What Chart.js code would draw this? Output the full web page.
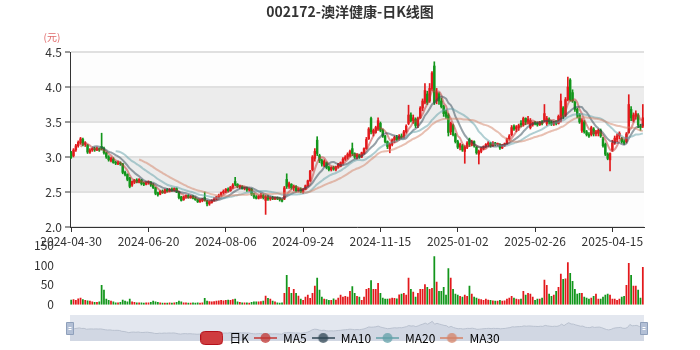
<!DOCTYPE html>
<html>
<head>
<meta charset="utf-8">
<script src="https://cdn.jsdelivr.net/npm/chart.js@4.4.1/dist/chart.umd.min.js"></script>
<style>
  html, body { margin: 0; padding: 0; background: #fff; }
  #wrap { position: relative; width: 700px; height: 350px; overflow: hidden; }
  #wrap canvas { position: absolute; left: 0; }
  #sliderChart { top: 315px; }
  #volChart { top: 230px; }
  #kChart { top: 0; }
</style>
</head>
<body>
<div id="wrap">
  <canvas id="sliderChart" width="700" height="26"></canvas>
  <canvas id="volChart" width="700" height="90"></canvas>
  <canvas id="kChart" width="700" height="354"></canvas>
</div>
<script>
// daily prices (yuan)
const opens = [
  3.06,3.02,3.10,3.16,3.20,3.25,3.18,3.17,3.07,3.10, 3.12,3.10,3.12,3.15,3.12,3.06,3.00,2.95,2.97,2.92,
  2.90,2.91,2.90,2.78,2.75,2.70,2.60,2.64,2.67,2.64, 2.67,2.62,2.61,2.63,2.64,2.60,2.56,2.49,2.47,2.51,
  2.49,2.53,2.51,2.54,2.52,2.55,2.50,2.43,2.39,2.43, 2.45,2.42,2.44,2.41,2.39,2.36,2.38,2.42,2.37,2.33,
  2.35,2.38,2.40,2.43,2.45,2.49,2.51,2.54,2.52,2.57, 2.65,2.61,2.57,2.58,2.55,2.56,2.53,2.54,2.47,2.43,
  2.41,2.43,2.45,2.38,2.43,2.40,2.42,2.40,2.42,2.41, 2.39,2.40,2.68,2.58,2.61,2.56,2.58,2.52,2.54,2.50,
  2.54,2.59,2.66,2.82,2.98,3.24,3.02,2.95,2.88,2.92, 2.85,2.82,2.85,2.82,2.86,2.87,2.92,2.97,3.00,3.02,
  3.12,3.05,3.00,3.03,3.00,3.05,3.12,3.26,3.55,3.34, 3.35,3.40,3.48,3.38,3.30,3.22,3.12,3.18,3.24,3.28,
  3.25,3.30,3.28,3.36,3.48,3.60,3.52,3.54,3.45,3.56, 3.70,3.78,3.90,3.80,3.98,4.30,3.80,3.90,3.80,3.72,
  3.64,3.60,3.36,3.45,3.32,3.22,3.14,3.16,3.08,3.14, 3.25,3.18,3.22,3.14,3.04,3.08,3.12,3.15,3.18,3.20,
  3.16,3.20,3.18,3.18,3.13,3.17,3.19,3.26,3.32,3.44, 3.40,3.42,3.48,3.46,3.55,3.50,3.42,3.46,3.49,3.48,
  3.46,3.50,3.52,3.48,3.54,3.50,3.47,3.50,3.48,3.52, 3.70,3.60,3.82,4.10,3.92,3.78,3.68,3.60,3.38,3.50,
  3.36,3.32,3.32,3.40,3.33,3.34,3.38,3.26,3.18,3.04, 2.96,3.10,3.20,3.25,3.30,3.26,3.22,3.22,3.35,3.68,
  3.52,3.58,3.60,3.44,3.44
];
const closes = [
  3.00,3.10,3.16,3.21,3.26,3.18,3.20,3.07,3.10,3.12, 3.10,3.12,3.10,3.12,3.06,3.00,2.96,2.98,2.92,2.91,
  2.92,2.90,2.78,2.75,2.68,2.58,2.65,2.67,2.64,2.68, 2.62,2.61,2.64,2.65,2.60,2.56,2.48,2.46,2.51,2.49,
  2.53,2.51,2.54,2.52,2.55,2.50,2.42,2.38,2.43,2.45, 2.42,2.44,2.41,2.39,2.36,2.38,2.40,2.38,2.33,2.36,
  2.38,2.40,2.43,2.45,2.49,2.51,2.54,2.52,2.57,2.60, 2.61,2.58,2.59,2.55,2.56,2.53,2.54,2.47,2.43,2.41,
  2.44,2.46,2.42,2.43,2.40,2.42,2.40,2.42,2.41,2.39, 2.37,2.56,2.58,2.62,2.56,2.58,2.52,2.55,2.50,2.54,
  2.59,2.66,2.80,3.00,3.08,3.05,2.95,2.90,2.94,2.85, 2.82,2.85,2.83,2.86,2.90,2.92,2.97,3.00,3.04,3.08,
  3.05,3.00,3.03,3.00,3.06,3.12,3.25,3.40,3.36,3.38, 3.42,3.52,3.38,3.30,3.22,3.15,3.18,3.24,3.28,3.25,
  3.30,3.28,3.36,3.44,3.60,3.52,3.56,3.45,3.55,3.70, 3.80,3.95,3.78,3.98,4.20,3.78,3.92,3.80,3.72,3.62,
  3.58,3.35,3.48,3.32,3.22,3.14,3.18,3.10,3.14,3.20, 3.18,3.22,3.16,3.06,3.08,3.12,3.15,3.18,3.20,3.16,
  3.20,3.18,3.19,3.13,3.17,3.19,3.26,3.30,3.42,3.40, 3.43,3.45,3.46,3.55,3.50,3.54,3.52,3.49,3.48,3.46,
  3.50,3.48,3.62,3.55,3.50,3.47,3.50,3.48,3.58,3.80, 3.58,3.82,4.00,3.82,3.80,3.68,3.60,3.50,3.52,3.36,
  3.32,3.30,3.42,3.33,3.36,3.38,3.30,3.16,3.04,2.98, 3.05,3.20,3.27,3.30,3.34,3.22,3.20,3.33,3.75,3.56,
  3.60,3.62,3.46,3.42,3.56
];
const lows = [
  2.98,3.00,3.08,3.14,3.18,3.16,3.15,3.05,3.05,3.08, 3.08,3.09,3.08,3.10,3.04,2.98,2.94,2.93,2.91,2.89,
  2.89,2.88,2.76,2.73,2.66,2.56,2.58,2.62,2.63,2.63, 2.60,2.59,2.60,2.61,2.58,2.55,2.46,2.44,2.46,2.48,
  2.48,2.50,2.50,2.51,2.51,2.49,2.40,2.37,2.38,2.41, 2.41,2.41,2.40,2.38,2.35,2.35,2.36,2.37,2.30,2.31,
  2.34,2.37,2.39,2.41,2.44,2.47,2.49,2.50,2.51,2.55, 2.59,2.56,2.55,2.54,2.53,2.51,2.51,2.45,2.41,2.40,
  2.40,2.41,2.40,2.18,2.38,2.38,2.39,2.39,2.39,2.37, 2.36,2.39,2.55,2.55,2.54,2.52,2.50,2.50,2.49,2.48,
  2.53,2.58,2.65,2.80,2.94,3.02,2.92,2.87,2.86,2.83, 2.80,2.80,2.81,2.80,2.84,2.86,2.90,2.95,2.97,3.00,
  3.02,2.98,2.97,2.98,2.99,3.04,3.11,3.25,3.33,3.30, 3.34,3.38,3.36,3.28,3.20,3.12,3.06,3.16,3.20,3.23,
  3.24,3.26,3.27,3.34,3.46,3.50,3.48,3.42,3.42,3.55, 3.66,3.76,3.75,3.78,3.95,3.75,3.76,3.75,3.70,3.58,
  3.55,3.30,3.32,3.30,3.20,3.12,3.10,3.08,2.91,3.12, 3.15,3.16,3.14,3.04,2.90,3.06,3.10,3.13,3.15,3.14,
  3.15,3.16,3.16,3.11,3.12,3.15,3.18,3.24,3.30,3.38, 3.36,3.38,3.43,3.44,3.46,3.47,3.40,3.44,3.46,3.44,
  3.45,3.46,3.50,3.45,3.47,3.45,3.45,3.46,3.47,3.50, 3.55,3.58,3.80,3.80,3.78,3.65,3.56,3.48,3.35,3.34,
  3.30,3.28,3.30,3.30,3.30,3.30,3.28,3.14,3.02,2.96, 2.80,3.08,3.18,3.22,3.26,3.20,3.18,3.20,3.34,3.52,
  3.50,3.54,3.42,3.38,3.42
];
const highs = [
  3.08,3.12,3.18,3.23,3.28,3.27,3.22,3.18,3.12,3.13, 3.14,3.14,3.13,3.34,3.14,3.07,3.02,3.00,2.99,2.94,
  2.94,2.93,2.91,2.80,2.76,2.71,2.66,2.68,2.69,2.69, 2.68,2.64,2.65,2.66,2.65,2.62,2.57,2.50,2.52,2.53,
  2.54,2.55,2.55,2.56,2.56,2.56,2.51,2.44,2.44,2.46, 2.46,2.45,2.45,2.43,2.40,2.40,2.41,2.50,2.38,2.37,
  2.39,2.42,2.44,2.47,2.50,2.53,2.55,2.56,2.58,2.62, 2.71,2.62,2.60,2.59,2.57,2.57,2.55,2.55,2.48,2.45,
  2.45,2.48,2.47,2.45,2.45,2.43,2.44,2.43,2.43,2.42, 2.40,2.58,2.76,2.64,2.62,2.60,2.59,2.56,2.56,2.55,
  2.60,2.67,2.81,3.02,3.12,3.29,3.04,2.97,2.96,2.93, 2.87,2.86,2.87,2.87,2.91,2.93,2.99,3.02,3.06,3.10,
  3.20,3.06,3.05,3.04,3.07,3.13,3.28,3.42,3.57,3.40, 3.44,3.56,3.50,3.40,3.31,3.23,3.20,3.26,3.30,3.31,
  3.32,3.33,3.38,3.46,3.74,3.63,3.60,3.56,3.57,3.72, 3.83,4.05,3.94,4.05,4.22,4.36,3.98,3.92,3.84,3.74,
  3.67,3.62,3.50,3.47,3.34,3.24,3.20,3.18,3.16,3.22, 3.27,3.24,3.23,3.15,3.10,3.14,3.16,3.19,3.22,3.21,
  3.22,3.21,3.20,3.19,3.18,3.20,3.27,3.32,3.45,3.46, 3.45,3.47,3.52,3.57,3.56,3.58,3.55,3.50,3.51,3.50,
  3.51,3.52,3.75,3.58,3.56,3.52,3.51,3.52,3.60,3.90, 3.72,3.85,4.14,4.12,3.96,3.80,3.70,3.62,3.55,3.52,
  3.38,3.35,3.44,3.42,3.38,3.40,3.40,3.28,3.20,3.06, 3.06,3.24,3.30,3.33,3.36,3.28,3.25,3.35,3.89,3.72,
  3.63,3.66,3.62,3.47,3.75
];
// volume (万手)
const volumes = [
  13,14,12,16,18,14,12,11,10,8, 7,7,8,50,38,15,12,10,8,6,
  6,7,13,10,8,15,8,7,6,6, 6,5,6,6,7,10,8,7,6,5,
  5,5,6,5,6,7,10,8,6,6, 5,5,6,5,6,5,6,17,10,9,
  8,9,10,11,12,11,12,13,12,14, 15,8,7,6,6,6,5,7,8,8,
  8,9,10,23,17,15,10,8,6,5, 6,30,75,45,30,40,30,23,15,12,
  20,25,17,30,48,68,38,20,15,14, 12,12,16,13,18,25,20,22,20,35,
  47,30,22,20,12,20,40,42,62,40, 40,55,30,18,15,15,16,18,17,16,
  26,28,30,25,68,40,33,20,30,40, 40,52,45,40,42,122,58,35,35,45,
  25,92,68,40,28,25,22,20,25,22, 48,28,20,18,15,14,12,15,13,12,
  11,10,10,12,10,11,15,18,22,18, 15,14,15,35,25,30,28,20,12,15,
  15,18,63,50,28,22,25,35,45,78, 65,66,107,80,60,40,28,30,30,20,
  18,15,18,22,28,15,15,20,25,28, 25,15,15,12,15,20,22,50,105,75,
  48,48,38,18,95
];
const firstDay = '2024-04-30';
const holidays = [
  '2024-05-01','2024-05-02','2024-05-03','2024-06-10','2024-09-16','2024-09-17',
  '2024-10-01','2024-10-02','2024-10-03','2024-10-04','2024-10-07',
  '2025-01-01','2025-01-28','2025-01-29','2025-01-30','2025-01-31','2025-02-03','2025-02-04',
  '2025-04-04','2025-05-01','2025-05-02','2025-05-05'
];
const labelEvery = 33;
const maDays = [5, 10, 20, 30];

// trading calendar
const dates = [];
const day = new Date(firstDay + 'T00:00:00Z');
while (dates.length < closes.length) {
  const s = day.toISOString().slice(0, 10);
  const wd = day.getUTCDay();
  if (wd !== 0 && wd !== 6 && holidays.indexOf(s) < 0) dates.push(s);
  day.setUTCDate(day.getUTCDate() + 1);
}

function movingAverage(n) {
  return closes.map((c, i) => {
    if (i < n - 1) return null;
    let sum = 0;
    for (let k = i - n + 1; k <= i; k++) sum += closes[k];
    return +(sum / n).toFixed(3);
  });
}

const upColor = '#e3191c';
const downColor = '#12961b';
const maColors = ['rgba(194,53,49,0.5)', 'rgba(47,69,84,0.5)', 'rgba(97,160,168,0.5)', 'rgba(212,130,101,0.5)'];
const maIconColors = ['rgba(194,53,49,0.75)', 'rgba(47,69,84,0.75)', 'rgba(97,160,168,0.75)', 'rgba(212,130,101,0.75)'];
const candleColors = closes.map((c, i) => c >= opens[i] ? upColor : downColor);

Chart.defaults.font.family = "'Noto Sans CJK SC', 'Noto Sans', sans-serif";
Chart.defaults.font.size = 12;
Chart.defaults.color = '#333';

function lineIcon(color) {
  const c = document.createElement('canvas');
  c.width = 23; c.height = 14;
  const g = c.getContext('2d');
  g.strokeStyle = color; g.lineWidth = 2;
  g.beginPath(); g.moveTo(0, 7); g.lineTo(23, 7); g.stroke();
  g.fillStyle = color;
  g.beginPath(); g.arc(11.5, 7, 5, 0, Math.PI * 2); g.fill();
  return c;
}
function kIcon() {
  const c = document.createElement('canvas');
  c.width = 23; c.height = 14;
  const g = c.getContext('2d');
  const r = 4;
  g.beginPath();
  g.moveTo(r + 0.5, 0.5); g.lineTo(22.5 - r, 0.5); g.arcTo(22.5, 0.5, 22.5, r, r);
  g.lineTo(22.5, 13.5 - r); g.arcTo(22.5, 13.5, 22.5 - r, 13.5, r);
  g.lineTo(r + 0.5, 13.5); g.arcTo(0.5, 13.5, 0.5, 13.5 - r, r);
  g.lineTo(0.5, r); g.arcTo(0.5, 0.5, r + 0.5, 0.5, r);
  g.closePath();
  g.fillStyle = '#cf3c3f'; g.fill();
  g.strokeStyle = '#b3101a'; g.lineWidth = 1; g.stroke();
  return c;
}

const bands = {
  id: 'bands',
  beforeDraw(chart) {
    const {ctx, chartArea: a, scales: {y}} = chart;
    const cols = ['#fdfdfd', '#ececec'];
    ctx.save();
    for (let v = y.min, k = 0; v < y.max - 1e-9; v += 0.5, k++) {
      const top = y.getPixelForValue(v + 0.5), bottom = y.getPixelForValue(v);
      ctx.fillStyle = cols[k % 2];
      ctx.fillRect(a.left, top, a.right - a.left, bottom - top);
    }
    ctx.restore();
  },
  afterDraw(chart) {
    const ctx = chart.ctx;
    ctx.save();
    ctx.fillStyle = '#e06a6a';
    ctx.font = "10px 'Noto Sans CJK SC', sans-serif";
    ctx.textAlign = 'center';
    ctx.textBaseline = 'middle';
    ctx.fillText('(元)', 52, 37);
    ctx.restore();
  }
};

new Chart(document.getElementById('kChart'), {
  type: 'bar',
  data: {
    labels: dates,
    datasets: [{
      label: 'wick',
      data: lows.map((l, i) => [l, highs[i]]),
      backgroundColor: candleColors,
      barThickness: 1,
      grouped: false,
      order: 6
    }, {
      label: '日K',
      data: opens.map((o, i) => [o, closes[i]]),
      backgroundColor: candleColors,
      barThickness: 1.8,
      minBarLength: 1,
      grouped: false,
      order: 5
    }].concat(maDays.map((n, k) => ({
      type: 'line',
      label: 'MA' + n,
      data: movingAverage(n),
      borderColor: maColors[k],
      borderWidth: 2,
      pointRadius: 0,
      tension: 0.2,
      order: 4 - k
    })))
  },
  plugins: [bands],
  options: {
    responsive: false,
    animation: false,
    layout: { padding: 0 },
    plugins: {
      title: {
        display: true,
        text: '002172-澳洋健康-日K线图',
        color: '#333',
        font: { size: 14, weight: 'bold' },
        padding: { top: 3, bottom: 32.2 }
      },
      legend: {
        position: 'bottom',
        labels: {
          usePointStyle: true,
          pointStyleWidth: 23,
          boxHeight: 14,
          padding: 5,
          color: '#333',
          generateLabels: () => [{
            text: '日K', pointStyle: kIcon(), fillStyle: upColor, strokeStyle: upColor, lineWidth: 0, hidden: false, datasetIndex: 1
          }].concat(maDays.map((n, k) => ({
            text: 'MA' + n, pointStyle: lineIcon(maIconColors[k]), fillStyle: maColors[k], strokeStyle: maColors[k], lineWidth: 0, hidden: false, datasetIndex: k + 2
          })))
        }
      },
      tooltip: { enabled: false }
    },
    scales: {
      x: {
        offset: true,
        afterFit(scale) { scale.height = 100; },
        border: { color: '#333' },
        grid: {
          offset: false,
          drawOnChartArea: false,
          tickLength: 5,
          tickColor: c => c.index % labelEvery === 0 ? '#333' : 'rgba(0,0,0,0)'
        },
        ticks: {
          autoSkip: false,
          maxRotation: 0,
          padding: 2,
          color: '#333',
          callback(v, i) { return i % labelEvery === 0 ? this.getLabelForValue(v) : ''; }
        }
      },
      y: {
        min: 2,
        max: 4.5,
        afterFit(scale) { scale.width = 70; },
        border: { color: '#333' },
        grid: { color: '#e0e0e0', lineWidth: 2, tickColor: '#333', tickWidth: 1, tickLength: 5 },
        ticks: { stepSize: 0.5, padding: 3, color: '#333' }
      },
      // empty right-hand gutter so the title and legend centre on the page
      gutter: {
        position: 'right',
        afterFit(scale) { scale.width = 56; },
        border: { display: false },
        grid: { display: false },
        ticks: { display: false }
      }
    }
  }
});

new Chart(document.getElementById('volChart'), {
  type: 'bar',
  data: {
    labels: dates,
    datasets: [{
      label: '成交量',
      data: volumes,
      backgroundColor: candleColors,
      barPercentage: 0.75,
      categoryPercentage: 1
    }]
  },
  options: {
    responsive: false,
    animation: false,
    layout: { padding: { left: 0, right: 56, top: 14, bottom: 6 } },
    plugins: { legend: { display: false }, tooltip: { enabled: false } },
    scales: {
      x: { display: false, offset: true },
      y: {
        min: 0,
        max: 150,
        afterFit(scale) { scale.width = 70; },
        border: { display: false },
        grid: { display: false },
        ticks: { stepSize: 50, padding: 8, color: '#333' }
      }
    }
  }
});

const sliderBox = {
  id: 'sliderBox',
  beforeDraw(chart) {
    const {ctx, chartArea: a} = chart;
    ctx.save();
    ctx.fillStyle = '#e3e7ef';
    ctx.fillRect(a.left, a.top, a.right - a.left, a.bottom - a.top);
    ctx.restore();
  },
  afterDraw(chart) {
    const {ctx, chartArea: a} = chart;
    ctx.save();
    [a.left, a.right].forEach(x => {
      ctx.fillStyle = '#b3c0d6';
      ctx.strokeStyle = '#8fa0bb';
      ctx.lineWidth = 1;
      ctx.beginPath();
      ctx.rect(x - 3.5, 7.5, 7, 12);
      ctx.fill(); ctx.stroke();
      ctx.strokeStyle = '#ffffff';
      ctx.beginPath();
      ctx.moveTo(x - 1.5, 12.5); ctx.lineTo(x + 1.5, 12.5);
      ctx.moveTo(x - 1.5, 14.5); ctx.lineTo(x + 1.5, 14.5);
      ctx.stroke();
    });
    ctx.restore();
  }
};

new Chart(document.getElementById('sliderChart'), {
  type: 'line',
  data: {
    labels: dates,
    datasets: [{
      label: 'shadow',
      data: closes,
      borderColor: '#b9c1cf',
      borderWidth: 1,
      backgroundColor: 'rgba(170,180,200,0.3)',
      fill: 'start',
      pointRadius: 0
    }]
  },
  plugins: [sliderBox],
  options: {
    responsive: false,
    animation: false,
    layout: { padding: { left: 70, right: 56, top: 0, bottom: 0 } },
    plugins: { legend: { display: false }, tooltip: { enabled: false } },
    scales: {
      x: { display: false },
      y: { display: false, min: 1.4, max: 5.1 }
    }
  }
});
</script>
</body>
</html>
